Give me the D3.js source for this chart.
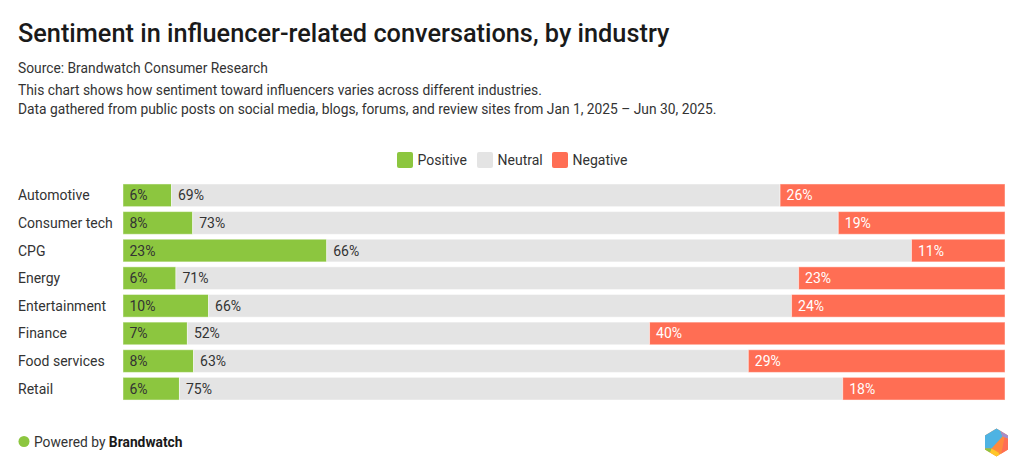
<!DOCTYPE html>
<html>
<head>
<meta charset="utf-8">
<script src="https://cdn.jsdelivr.net/npm/d3@7"></script>
<style>
  body { margin: 0; background: #fff; }
  text { font-family: Roboto, "Noto Sans", sans-serif; }
</style>
</head>
<body>
<svg id="chart" width="1024" height="472"></svg>
<script>
// chart data
var industries = ["Automotive", "Consumer tech", "CPG", "Energy", "Entertainment", "Finance", "Food services", "Retail"];
var positive = [5.5, 7.9, 23.1, 6.0, 9.7, 7.3, 8.0, 6.4];
var neutral  = [69.0, 73.2, 66.3, 70.6, 66.1, 52.4, 62.9, 75.2];
var negative = [25.5, 18.9, 10.6, 23.4, 24.2, 40.3, 29.1, 18.4];
var seriesNames = ["Positive", "Neutral", "Negative"];
var colors = ["#8cc63f", "#e4e4e4", "#ff6e54"];

var svg = d3.select("#chart");

// header texts
svg.append("text").attr("x", 18).attr("y", 42)
    .style("font-size", "25.3px").style("font-weight", 500).attr("fill", "#1a1a1a")
    .text("Sentiment in influencer-related conversations, by industry");
svg.append("text").attr("x", 18).attr("y", 73)
    .style("font-size", "13.8px").attr("fill", "#333")
    .text("Source: Brandwatch Consumer Research");
svg.append("text").attr("x", 18).attr("y", 95)
    .style("font-size", "13.8px").attr("fill", "#333")
    .text("This chart shows how sentiment toward influencers varies across different industries.");
svg.append("text").attr("x", 18).attr("y", 114)
    .style("font-size", "13.8px").attr("fill", "#333")
    .text("Data gathered from public posts on social media, blogs, forums, and review sites from Jan 1, 2025 \u2013 Jun 30, 2025.");

// legend
var legendX = [397, 477, 552];
var legend = svg.selectAll(".legend").data(seriesNames).enter().append("g")
    .attr("transform", function (d, i) { return "translate(" + legendX[i] + ",152)"; });
legend.append("rect").attr("width", 16).attr("height", 16).attr("rx", 2)
    .attr("fill", function (d, i) { return colors[i]; });
legend.append("text").attr("x", 20.5).attr("y", 13)
    .style("font-size", "14px").attr("fill", "#333")
    .text(function (d) { return d; });

// rows
var rows = industries.map(function (name, i) {
    return { name: name, Positive: positive[i], Neutral: neutral[i], Negative: negative[i] };
});
var stack = d3.stack().keys(seriesNames)(rows);

var x = d3.scaleLinear().domain([0, 100]).range([123, 1005]);
var y = d3.scaleBand().domain(industries).range([181.5, 402.5]).paddingInner(0.18).paddingOuter(0.09);

var layers = svg.selectAll(".layer").data(stack).enter().append("g")
    .attr("fill", function (d, i) { return colors[i]; });

layers.selectAll("rect").data(function (d) { return d; }).enter().append("rect")
    .attr("x", function (d) { return x(d[0]); })
    .attr("y", function (d) { return y(d.data.name); })
    .attr("width", function (d) { return x(d[1]) - x(d[0]); })
    .attr("height", y.bandwidth())
    .attr("stroke", "#fff").attr("stroke-opacity", 0.45).attr("stroke-width", 1);

layers.selectAll("text").data(function (d) { return d; }).enter().append("text")
    .attr("x", function (d) { return x(d[0]) + 6.5; })
    .attr("y", function (d) { return y(d.data.name) + y.bandwidth() / 2; })
    .attr("dy", "0.36em")
    .style("font-size", "14px")
    .attr("fill", function () { return d3.select(this.parentNode).datum().key === "Negative" ? "#fff" : "#333"; })
    .text(function (d) { return Math.round(d[1] - d[0]) + "%"; });

// category labels
var yAxis = d3.axisLeft(y).tickSize(0).tickPadding(0);
var ax = svg.append("g").attr("transform", "translate(18,0)").call(yAxis);
ax.select(".domain").remove();
ax.selectAll("text").attr("text-anchor", "start").attr("x", 0).attr("dy", "0.36em")
    .style("font-size", "14px").style("font-family", "Roboto, sans-serif").attr("fill", "#333");

// footer
svg.append("circle").attr("cx", 24).attr("cy", 441.5).attr("r", 5.5).attr("fill", "#8cc63f");
var ft = svg.append("text").attr("x", 34).attr("y", 446.5).style("font-size", "13.8px").attr("fill", "#333");
ft.append("tspan").text("Powered by ");
ft.append("tspan").style("font-weight", 700).attr("fill", "#1a1a1a").text("Brandwatch");

// logo hexagon
var cx = 996.5, cy = 442.5, rx = 11.5, ry = 14;
var hex = [[cx, cy - ry], [cx + rx, cy - ry / 2], [cx + rx, cy + ry / 2], [cx, cy + ry], [cx - rx, cy + ry / 2], [cx - rx, cy - ry / 2]];
var logo = svg.append("g");
logo.append("clipPath").attr("id", "hexclip").append("polygon").attr("points", hex.join(" "));
var lg = logo.append("g").attr("clip-path", "url(#hexclip)");
lg.append("rect").attr("x", cx - 13).attr("y", cy - 15).attr("width", 26).attr("height", 30).attr("fill", "#ff8a3d");
lg.append("polygon").attr("points", [[cx - 13, cy - 15], [cx + 3, cy - 15], [cx + 6, cy - 6], [cx - 5, cy + 6], [cx - 13, cy + 6]].join(" ")).attr("fill", "#4eb3e3");
lg.append("polygon").attr("points", [[cx + 3, cy - 15], [cx + 13, cy - 15], [cx + 13, cy - 3], [cx + 6, cy - 6]].join(" ")).attr("fill", "#a58cc9");
lg.append("polygon").attr("points", [[cx + 13, cy - 3], [cx + 8, cy - 5], [cx + 4, cy + 15], [cx + 13, cy + 15]].join(" ")).attr("fill", "#ff6e54");
lg.append("polygon").attr("points", [[cx - 13, cy + 6], [cx - 5, cy + 6], [cx - 8, cy + 15], [cx - 13, cy + 15]].join(" ")).attr("fill", "#8cc63f");
lg.append("polygon").attr("points", [[cx - 5, cy + 6], [cx + 2, cy + 10], [cx + 4, cy + 15], [cx - 8, cy + 15]].join(" ")).attr("fill", "#ffc629");
</script>
</body>
</html>
